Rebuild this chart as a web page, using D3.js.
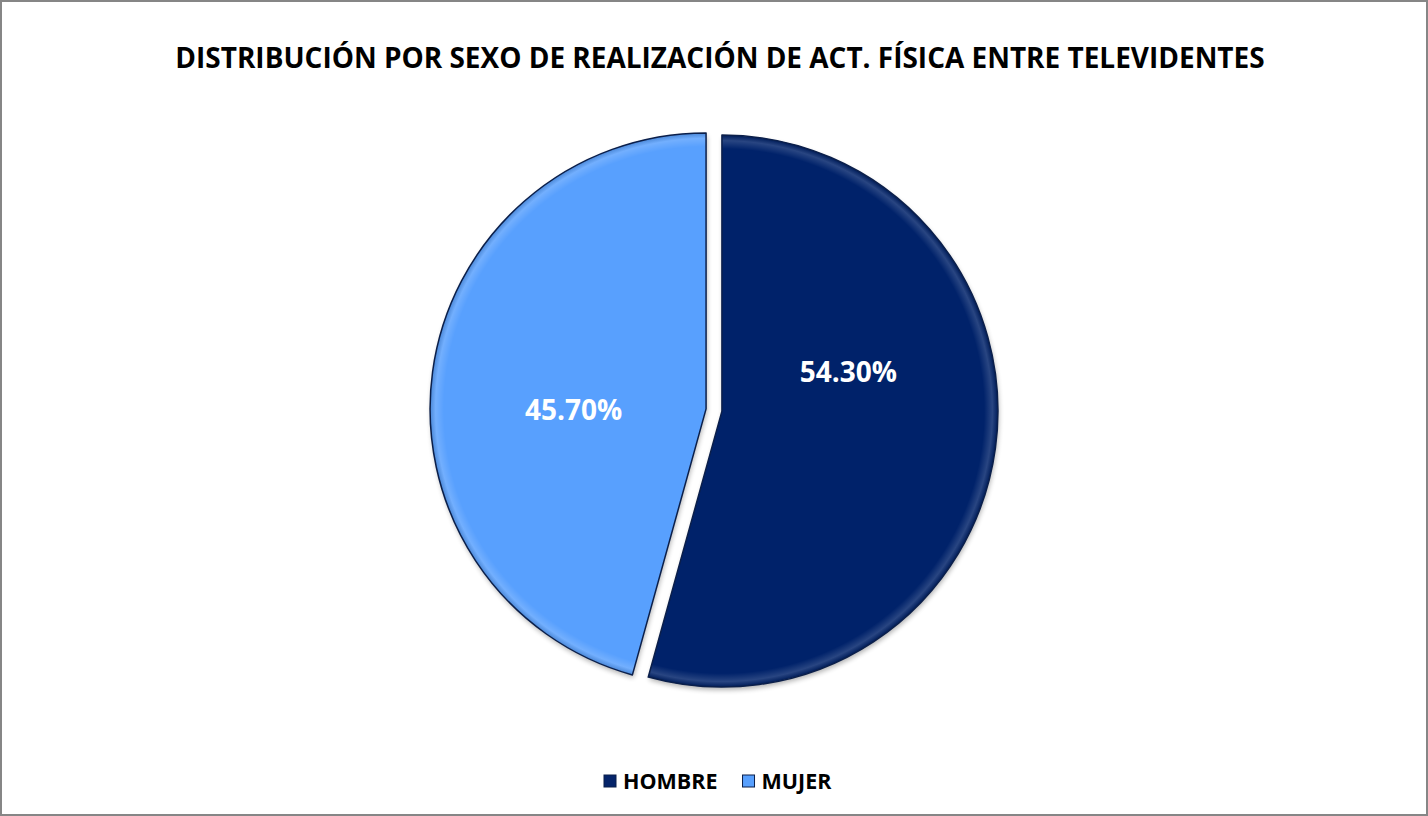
<!DOCTYPE html>
<html>
<head>
<meta charset="utf-8">
<script src="https://cdn.jsdelivr.net/npm/d3@7"></script>
<style>
  html, body { margin: 0; padding: 0; background: #fff; }
  svg { display: block; font-family: "Open Sans", "Noto Sans", sans-serif; }
</style>
</head>
<body>
<div id="chart"></div>
<script>
var title = "DISTRIBUCIÓN POR SEXO DE REALIZACIÓN DE ACT. FÍSICA ENTRE TELEVIDENTES";
var categories = ["HOMBRE", "MUJER"];
var values = [54.3, 45.7];
var colors = ["#05246A", "#58A0FE"];

var width = 1428, height = 816;
var cx = 714, cy = 410, radius = 276, explode = 8;

var svg = d3.select("#chart")
    .append("svg")
    .attr("width", width)
    .attr("height", height);

var defs = svg.append("defs");

// bevel: light band just inside the rim
var bevel = defs.append("radialGradient")
    .attr("id", "bevel")
    .attr("gradientUnits", "userSpaceOnUse")
    .attr("cx", 0).attr("cy", 0).attr("r", radius);
bevel.append("stop").attr("offset", 0.95).attr("stop-color", "#fff").attr("stop-opacity", 0);
bevel.append("stop").attr("offset", 0.98).attr("stop-color", "#fff").attr("stop-opacity", 0.16);
bevel.append("stop").attr("offset", 1).attr("stop-color", "#000").attr("stop-opacity", 0.15);

var shadow = defs.append("filter").attr("id", "shadow")
    .attr("x", "-10%").attr("y", "-10%").attr("width", "120%").attr("height", "120%");
shadow.append("feGaussianBlur").attr("in", "SourceAlpha").attr("stdDeviation", 2.5);
shadow.append("feOffset").attr("dx", 1).attr("dy", 3).attr("result", "blur");
shadow.append("feComponentTransfer").append("feFuncA").attr("type", "linear").attr("slope", 0.3);
var merge = shadow.append("feMerge");
merge.append("feMergeNode");
merge.append("feMergeNode").attr("in", "SourceGraphic");

// frame
svg.append("rect")
    .attr("x", 1).attr("y", 1)
    .attr("width", width - 2).attr("height", height - 2)
    .attr("fill", "#fff")
    .attr("stroke", "#868686")
    .attr("stroke-width", 2);

// title, fitted to the width seen in the reference
var titleText = svg.append("text")
    .attr("x", 720)
    .attr("y", 68)
    .attr("text-anchor", "middle")
    .attr("font-weight", "bold")
    .attr("font-size", 24)
    .attr("fill", "#000")
    .text(title);
var tw = titleText.node().getComputedTextLength();
titleText.attr("font-size", 24 * 1090 / tw);

var pie = d3.pie().sort(null).value(d => d);
var arcs = pie(values);

var arc = d3.arc().innerRadius(0).outerRadius(radius);

function midAngle(d) { return (d.startAngle + d.endAngle) / 2; }

// Excel pulls the labels of big slices up toward the horizontal a bit
function labelPos(d) {
    var span = d.endAngle - d.startAngle;
    var a = midAngle(d) - Math.max(0, span - Math.PI * 5 / 6) * 0.55;
    var r = radius * 0.48;
    return [Math.sin(a) * r, -Math.cos(a) * r];
}

var slices = svg.append("g")
    .attr("transform", "translate(" + [cx, cy] + ")")
    .selectAll("g")
    .data(arcs)
    .enter()
    .append("g")
    .attr("transform", function(d) {
        var mid = midAngle(d);
        return "translate(" + [Math.sin(mid) * explode, -Math.cos(mid) * explode] + ")";
    });

slices.append("path")
    .attr("d", arc)
    .attr("fill", (d, i) => colors[i])
    .attr("filter", "url(#shadow)");

slices.append("path")
    .attr("d", arc)
    .attr("fill", "url(#bevel)")
    .attr("stroke", "#0B1F4A")
    .attr("stroke-width", 1.5)
    .attr("stroke-linejoin", "round");

slices.append("text")
    .attr("transform", d => "translate(" + labelPos(d) + ")")
    .attr("text-anchor", "middle")
    .attr("dy", "0.36em")
    .attr("font-weight", "bold")
    .attr("font-size", 28)
    .attr("fill", "#fff")
    .text(d => d.data.toFixed(2) + "%");

// legend
var legend = svg.append("g").attr("transform", "translate(0,781)");
var lx = 604;
categories.forEach(function(c, i) {
    var g = legend.append("g").attr("transform", "translate(" + lx + ",0)");
    g.append("rect")
        .attr("x", 0).attr("y", -6)
        .attr("width", 12).attr("height", 12)
        .attr("fill", colors[i])
        .attr("stroke", "#0B1F4A")
        .attr("stroke-width", 1);
    var t = g.append("text")
        .attr("x", 19)
        .attr("dy", "0.36em")
        .attr("font-weight", "bold")
        .attr("font-size", 21.5)
        .attr("fill", "#000")
        .text(c);
    lx += 19 + t.node().getComputedTextLength() + 25;
});
</script>
</body>
</html>
